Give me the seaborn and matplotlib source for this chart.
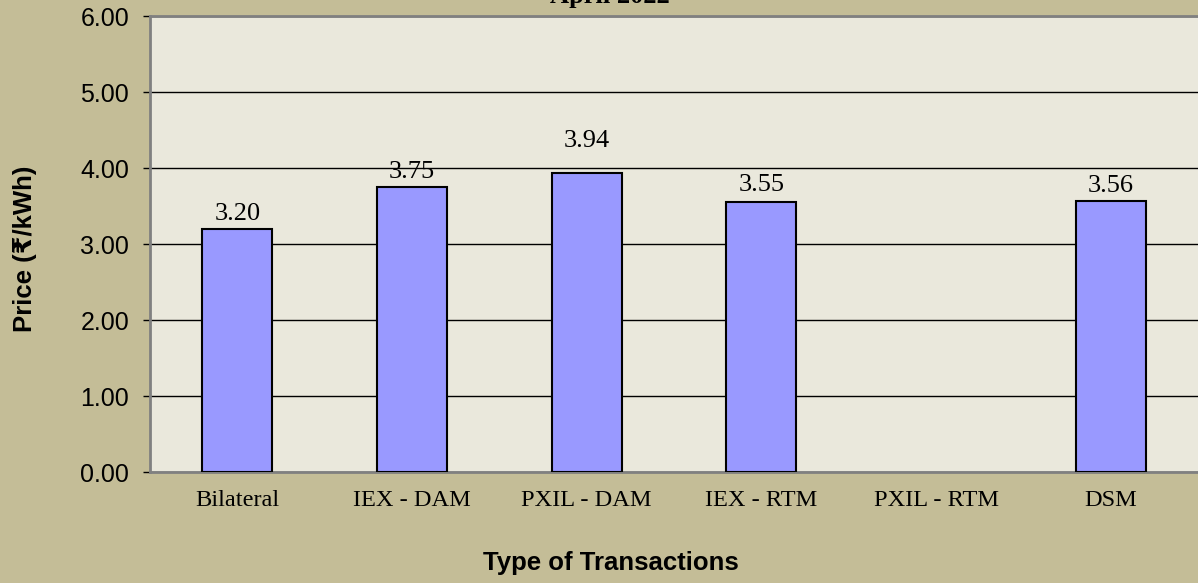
import matplotlib
matplotlib.use("Agg")
import matplotlib.pyplot as plt
import numpy as np
import pandas as pd
import seaborn as sns

# values
categories = ["Bilateral", "IEX - DAM", "PXIL - DAM", "IEX - RTM", "PXIL - RTM", "DSM"]
prices = [3.20, 3.75, 3.94, 3.55, np.nan, 3.56]
title = "April 2022"
ylabel = "Price (\u20b9/kWh)"
xlabel = "Type of Transactions"

fig_bg = "#C4BD97"
plot_bg = "#EAE8DC"
bar_color = "#9999FF"
serif = ["Liberation Serif", "DejaVu Serif"]

sns.set_style("white")
plt.rcParams["font.family"] = ["Liberation Sans", "DejaVu Sans"]
plt.rcParams.update({"text.color": "black", "axes.labelcolor": "black",
                     "xtick.color": "black", "ytick.color": "black"})

df = pd.DataFrame({"category": categories, "price": prices})

fig = plt.figure(figsize=(11.98, 5.83), dpi=100, facecolor=fig_bg)
ax = fig.add_axes([150 / 1198, 111 / 583, 1048 / 1198, 456 / 583])
ax.set_facecolor(plot_bg)

sns.barplot(data=df.dropna(), x="category", y="price", order=categories,
            color=bar_color, width=0.4, edgecolor="black", linewidth=1.5,
            saturation=1, ax=ax, zorder=3)

ax.set_xlim(-0.5, len(categories) - 0.5)
ax.set_ylim(0, 6)
ax.set_yticks(np.arange(0, 7, 1))
ax.set_yticklabels([f"{v:.2f}" for v in np.arange(0, 7, 1)], fontsize=18)
ax.yaxis.grid(True, color="black", linewidth=1, zorder=1)
ax.set_axisbelow(True)

ax.set_xticks(range(len(categories)))
ax.set_xticklabels(categories, fontsize=17.6, family=serif)
ax.set_xticks(np.arange(-0.5, len(categories)), minor=True)
ax.tick_params(axis="x", which="major", length=0, pad=13)
ax.tick_params(axis="x", which="minor", length=5, width=1, direction="out", color="black")
ax.tick_params(axis="y", length=5, width=1, direction="out", color="black", pad=10, left=True)

for side in ["left", "bottom", "top"]:
    ax.spines[side].set_color("#808080")
    ax.spines[side].set_linewidth(2)
ax.spines["right"].set_visible(False)

# data labels (Excel nudged the PXIL - DAM one up)
pads = [3, 3, 15, 4.5, 0, 3]
for i, v in enumerate(prices):
    if np.isnan(v):
        continue
    ax.annotate(f"{v:.2f}", (i, v), xytext=(0, pads[i]), textcoords="offset points",
                ha="center", va="bottom", fontsize=19, family=serif)

ax.set_xlabel("")
ax.set_ylabel(ylabel, fontsize=18.5, fontweight="bold")
ax.yaxis.set_label_coords(-0.1078, 0.49)

fig.text(611 / 1198, 0.0343, xlabel, ha="center", va="center", fontsize=18.5, fontweight="bold")
fig.text(610 / 1198, 580 / 583, title, ha="center", va="baseline", fontsize=19,
         fontweight="bold", family=serif)

fig.savefig("out.png", dpi=100, facecolor=fig_bg)
